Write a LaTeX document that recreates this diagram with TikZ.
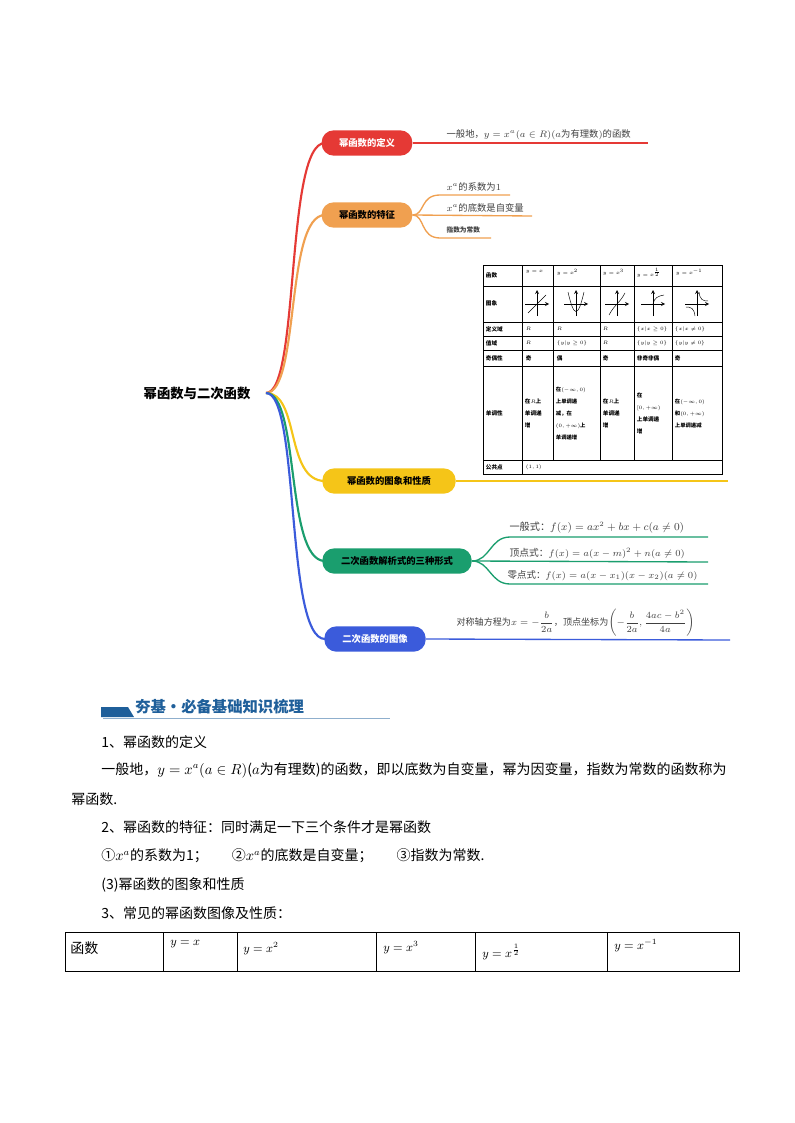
\documentclass[tikz,border=0pt]{standalone}
\usepackage{fontspec}
\usepackage{amsmath,amssymb,graphicx}
\newfontfamily\cjk{Noto Sans CJK SC}
\definecolor{cred}{HTML}{E53935}
\definecolor{corg}{HTML}{F0A050}
\definecolor{cyel}{HTML}{F5C518}
\definecolor{cgrn}{HTML}{1A9E6E}
\definecolor{cblu}{HTML}{3B5BDB}
\definecolor{hdr}{HTML}{1F5F9A}
\newcommand{\sm}[1]{\scalebox{0.75}{#1}}
\tikzset{
 mm/.style={rounded corners=9pt,minimum height=19pt,inner xsep=8pt,font=\cjk\bfseries\fontsize{7}{8}\selectfont,text=white},
 br/.style={line width=1.6pt},
 lf/.style={anchor=south west,inner sep=1pt,font=\cjk\fontsize{7}{8}\selectfont,text=black!75},
 tc/.style={font=\cjk\fontsize{4.2}{6}\selectfont,inner sep=0.5pt,align=left},
 tm/.style={font=\cjk\fontsize{5}{6}\selectfont,inner sep=0.5pt},
 bt/.style={anchor=west,inner sep=0pt,font=\cjk\fontsize{10.5}{12}\selectfont},
}
\begin{document}
\begin{tikzpicture}[x=0.75pt,y=-0.75pt]
\useasboundingbox (0,0) rectangle (794,1123);
\fill[white] (0,0) rectangle (794,1123);
% root
\node[font=\cjk\bfseries\fontsize{10}{11}\selectfont] (root) at (197,393) {幂函数与二次函数};
\coordinate (r) at (266,393);
% branches
\draw[br,cred] (r) .. controls (300,393) and (285,143) .. (325,143);
\draw[br,corg] (r) .. controls (300,393) and (285,215) .. (325,215);
\draw[br,cyel] (r) .. controls (300,393) and (285,481) .. (325,481);
\draw[br,cgrn] (r) .. controls (300,393) and (285,561) .. (325,561);
\draw[br,cblu] (r) .. controls (300,393) and (285,639) .. (325,639);
% nodes
\node[mm,fill=cred,minimum width=68pt] (n1) at (367,143) {幂函数的定义};
\node[mm,fill=corg,minimum width=68pt,text=black] (n2) at (367,215) {幂函数的特征};
\node[mm,fill=cyel,minimum width=100pt,text=black] (n3) at (389,481) {幂函数的图象和性质};
\node[mm,fill=cgrn,minimum width=112pt,text=black] (n4) at (397,561) {二次函数解析式的三种形式};
\node[mm,fill=cblu,minimum width=76pt] (n5) at (375,639) {二次函数的图像};
% leaves
\coordinate (e1) at (648,143);
\draw[cred,line width=1pt] (n1.east) -- (e1);
\node[lf] at (445,141) {一般地，$y=x^a(a\in R)(a$为有理数$)$的函数};
\coordinate (a1) at (510,195); \coordinate (a2) at (532,216); \coordinate (a3) at (491,238);
\draw[corg,line width=1pt] (n2.east) .. controls (425,215) and (420,195) .. (440,195) -- (a1);
\draw[corg,line width=1pt] (n2.east) -- (a2);
\draw[corg,line width=1pt] (n2.east) .. controls (425,215) and (420,238) .. (440,238) -- (a3);
\node[lf] at (445,193) {$x^a$的系数为$1$};
\node[lf] at (445,214) {$x^a$的底数是自变量};
\node[lf,font=\cjk\bfseries\fontsize{5}{6}\selectfont] at (445,235) {指数为常数};
\coordinate (e3) at (728,481);
\draw[cyel,line width=1pt] (n3.east) -- (e3);
\coordinate (g1) at (708,537); \coordinate (g2) at (708,562); \coordinate (g3) at (708,584);
\draw[cgrn,line width=1pt] (n4.east) .. controls (490,561) and (490,537) .. (510,537) -- (g1);
\draw[cgrn,line width=1pt] (n4.east) -- (g2);
\draw[cgrn,line width=1pt] (n4.east) .. controls (490,561) and (490,584) .. (510,584) -- (g3);
\node[lf,font=\cjk\fontsize{7.6}{8}\selectfont] at (508,535) {一般式：$f(x)=ax^2+bx+c(a\neq0)$};
\node[lf,font=\cjk\fontsize{7.3}{8}\selectfont] at (508,560) {顶点式：$f(x)=a(x-m)^2+n(a\neq0)$};
\node[lf,font=\cjk\fontsize{7.1}{8}\selectfont] at (506,582) {零点式：$f(x)=a(x-x_1)(x-x_2)(a\neq0)$};
\coordinate (e5) at (730,640);
\draw[cblu,line width=1pt] (n5.east) -- (e5);
\node[lf,font=\cjk\fontsize{6.8}{8}\selectfont] at (455,638) {对称轴方程为$x=-\dfrac{b}{2a}$，顶点坐标为$\left(-\dfrac{b}{2a},\dfrac{4ac-b^2}{4a}\right)$};
% table
\draw[line width=0.5pt] (483,265) rectangle (722,474);
\foreach \y in {286,322,336,350,366,460} \draw[line width=0.4pt] (483,\y) -- (722,\y);
\foreach \x in {522,553,600,634,672} \draw[line width=0.4pt] (\x,265) -- (\x,460);
\draw[line width=0.4pt] (522,460) -- (522,474);
\node[tc,anchor=west] at (485,275) {\bfseries 函数};
\node[tm,anchor=west] at (525,272) {\sm{$y=x$}};
\node[tm,anchor=west] at (556,272) {\sm{$y=x^2$}};
\node[tm,anchor=west] at (602,272) {\sm{$y=x^3$}};
\node[tm,anchor=west] at (636,273) {\sm{$y=x^{\frac12}$}};
\node[tm,anchor=west] at (675,272) {\sm{$y=x^{-1}$}};
\node[tc,anchor=west] at (485,303) {\bfseries 图象};
\node[tc,anchor=west] at (485,329) {\bfseries 定义域};
\node[tc,anchor=west] at (485,343) {\bfseries 值域};
\node[tc,anchor=west] at (485,358) {\bfseries 奇偶性};
\node[tc,anchor=west] at (485,413) {\bfseries 单调性};
\node[tc,anchor=west] at (485,467) {\bfseries 公共点};
\node[tm,anchor=west] at (525,329) {\sm{$R$}};\node[tm,anchor=west] at (556,329) {\sm{$R$}};\node[tm,anchor=west] at (602,329) {\sm{$R$}};
\node[tm,anchor=west] at (636,329) {\sm{$\{x|x\ge0\}$}};\node[tm,anchor=west] at (674,329) {\sm{$\{x|x\ne0\}$}};
\node[tm,anchor=west] at (525,343) {\sm{$R$}};\node[tm,anchor=west] at (556,343) {\sm{$\{y|y\ge0\}$}};\node[tm,anchor=west] at (602,343) {\sm{$R$}};
\node[tm,anchor=west] at (636,343) {\sm{$\{y|y\ge0\}$}};\node[tm,anchor=west] at (674,343) {\sm{$\{y|y\ne0\}$}};
\node[tc,anchor=west] at (525,358) {\bfseries 奇};\node[tc,anchor=west] at (556,358) {\bfseries 偶};\node[tc,anchor=west] at (602,358) {\bfseries 奇};
\node[tc,anchor=west] at (636,358) {\bfseries 非奇非偶};\node[tc,anchor=west] at (674,358) {\bfseries 奇};
\node[tc,anchor=west,font=\cjk\bfseries\fontsize{4.2}{9}\selectfont] at (524,413) {在\sm{$R$}上\\单调递\\增};
\node[tc,anchor=west,font=\cjk\bfseries\fontsize{4}{9}\selectfont] at (555,413) {在\sm{$(-\infty,0)$}\\上单调递\\减，在\\\sm{$(0,+\infty)$}上\\单调递增};
\node[tc,anchor=west,font=\cjk\bfseries\fontsize{4.2}{9}\selectfont] at (602,413) {在\sm{$R$}上\\单调递\\增};
\node[tc,anchor=west,font=\cjk\bfseries\fontsize{4.2}{9}\selectfont] at (636,413) {在\\\sm{$[0,+\infty)$}\\上单调递\\增};
\node[tc,anchor=west,font=\cjk\bfseries\fontsize{4}{9}\selectfont] at (674,413) {在\sm{$(-\infty,0)$}\\和\sm{$(0,+\infty)$}\\上单调递减};
\node[tm,anchor=west] at (525,467) {\sm{$(1,1)$}};
% mini graphs
\begin{scope}[line width=0.35pt]
 \foreach \cx in {537,576,617,653,697}{
   \draw[->,>=stealth] (\cx-12,304) -- (\cx+12,304);
   \draw[->,>=stealth] (\cx,316) -- (\cx,290);}
 \draw (528,313) -- (546,295);
 \draw (568,292) .. controls (574,318) and (578,318) .. (584,292);
 \draw (609,315) .. controls (615,304) and (619,304) .. (625,293);
 \draw (653,304) .. controls (654,298) and (658,296) .. (664,295);
 \draw (699,292) .. controls (700,300) and (703,301) .. (708,301);
 \draw (686,307) .. controls (691,307) and (694,308) .. (695,316);
\end{scope}
% lower section
\fill[hdr] (101,707) -- (128,707) -- (134,717) -- (101,717) -- cycle;
\draw[hdr!50,line width=0.6pt] (103,718) -- (390,718);
\node[anchor=west,inner sep=0pt,text=hdr,font=\cjk\bfseries\fontsize{11.5}{12}\selectfont] (hd) at (135,707) {夯基·必备基础知识梳理};
\node[bt] at (101,742) {1、幂函数的定义};
\node[bt] at (101,770) {一般地，$y=x^a(a\in R)$($a$为有理数)的函数，即以底数为自变量，幂为因变量，指数为常数的函数称为};
\node[bt] at (71,799) {幂函数.};
\node[bt] at (101,827) {2、幂函数的特征：同时满足一下三个条件才是幂函数};
\node[bt] at (101,856) {①$x^a$的系数为1；\hspace{18pt}②$x^a$的底数是自变量；\hspace{18pt}③指数为常数.};
\node[bt] at (101,885) {(3)幂函数的图象和性质};
\node[bt] at (101,913) {3、常见的幂函数图像及性质：};
\draw[line width=0.6pt] (65,932) rectangle (739,971);
\foreach \x in {163,237,376,475,607} \draw[line width=0.6pt] (\x,932) -- (\x,971);
\node[bt] at (70,948) {函数};
\node[bt,font=\fontsize{9}{10}\selectfont] at (170,944) {$y=x$};
\node[bt,font=\fontsize{9}{10}\selectfont] at (243,949) {$y=x^2$};
\node[bt,font=\fontsize{9}{10}\selectfont] at (383,948) {$y=x^3$};
\node[bt,font=\fontsize{9}{10}\selectfont] at (482,952) {$y=x^{\frac12}$};
\node[bt,font=\fontsize{9}{10}\selectfont] at (614,946) {$y=x^{-1}$};
\end{tikzpicture}
\end{document}
